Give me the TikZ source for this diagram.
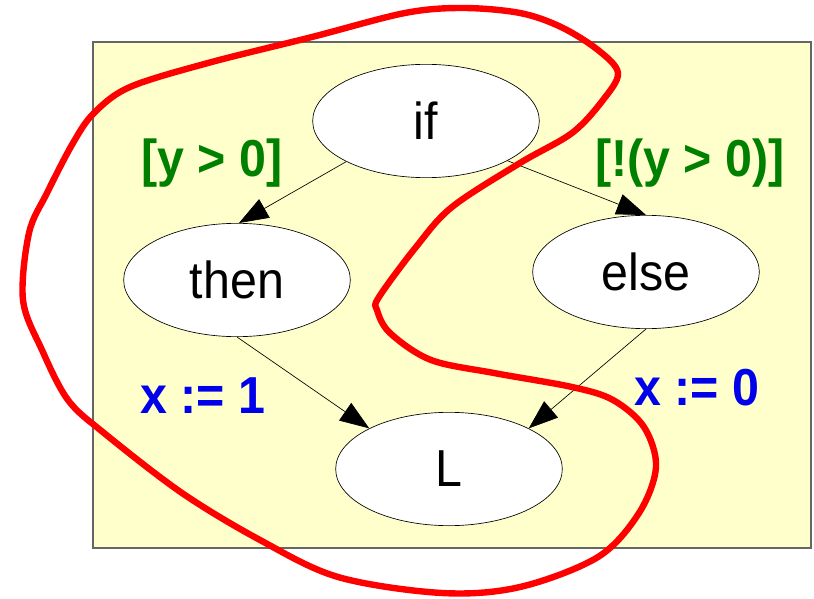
\documentclass[tikz,border=0pt]{standalone}
\usepackage{fontspec}
\setmainfont{Liberation Sans}[FakeStretch=0.93]
\usetikzlibrary{shapes.geometric,arrows.meta}
\definecolor{guardgreen}{RGB}{0,128,0}
\definecolor{assignblue}{RGB}{0,0,235}
\definecolor{panelyellow}{RGB}{255,255,204}
\begin{document}
\begin{tikzpicture}[x=0.75pt,y=-0.75pt,font=\fontsize{39}{44}\selectfont,
    block/.style={ellipse,draw=black,line width=0.5pt,fill=white,inner sep=0pt,
      minimum width=170pt,minimum height=85pt},
    guard/.style={text=guardgreen,font=\fontsize{39}{44}\selectfont\bfseries},
    assign/.style={text=assignblue,font=\fontsize{39}{44}\selectfont\bfseries},
    flow/.style={line width=0.5pt,-{Triangle[length=22pt,width=16pt]}}]
  \useasboundingbox (0,0) rectangle (814,599);
  \draw[draw=black!60,fill=panelyellow,line width=0.8pt] (93,42) rectangle (811,548);
  \node[block] (if) at (426,121) {if};
  \node[block] (then) at (237,280) {then};
  \node[block] (else) at (646,272) {else};
  \node[block] (L) at (449,469) {L};
  \node[guard] (gthen) at (212,163) {[y > 0]};
  \node[guard] (gelse) at (690,163) {[!(y > 0)]};
  \node[assign] (athen) at (203,396) {x := 1};
  \node[assign] (aelse) at (697,388) {x := 0};
  \draw[flow] (if.207) -- (then.88);
  \draw[flow] (if.334) -- (else.north);
  \draw[flow] (then.south) -- (L.153);
  \draw[flow] (else.south) -- (L.27);
  \draw[red,line width=4.8pt,line join=round] plot[smooth cycle,tension=0.55] coordinates {
    (618,73) (598,50) (561,27) (520,13) (463,8) (405,13) (312,37) (208,63)
    (130,87) (94,113) (73,143) (47,193) (29,233) (23,300) (42,350) (68,400)
    (104,433) (182,493) (260,540) (338,577) (442,593) (520,587) (598,557)
    (639,513) (656,467) (644,427) (613,400) (572,387) (494,373) (431,360)
    (390,333) (377,310) (379,297) (416,247) (452,207) (520,163) (572,133)
    (603,100)};
\end{tikzpicture}
\end{document}
